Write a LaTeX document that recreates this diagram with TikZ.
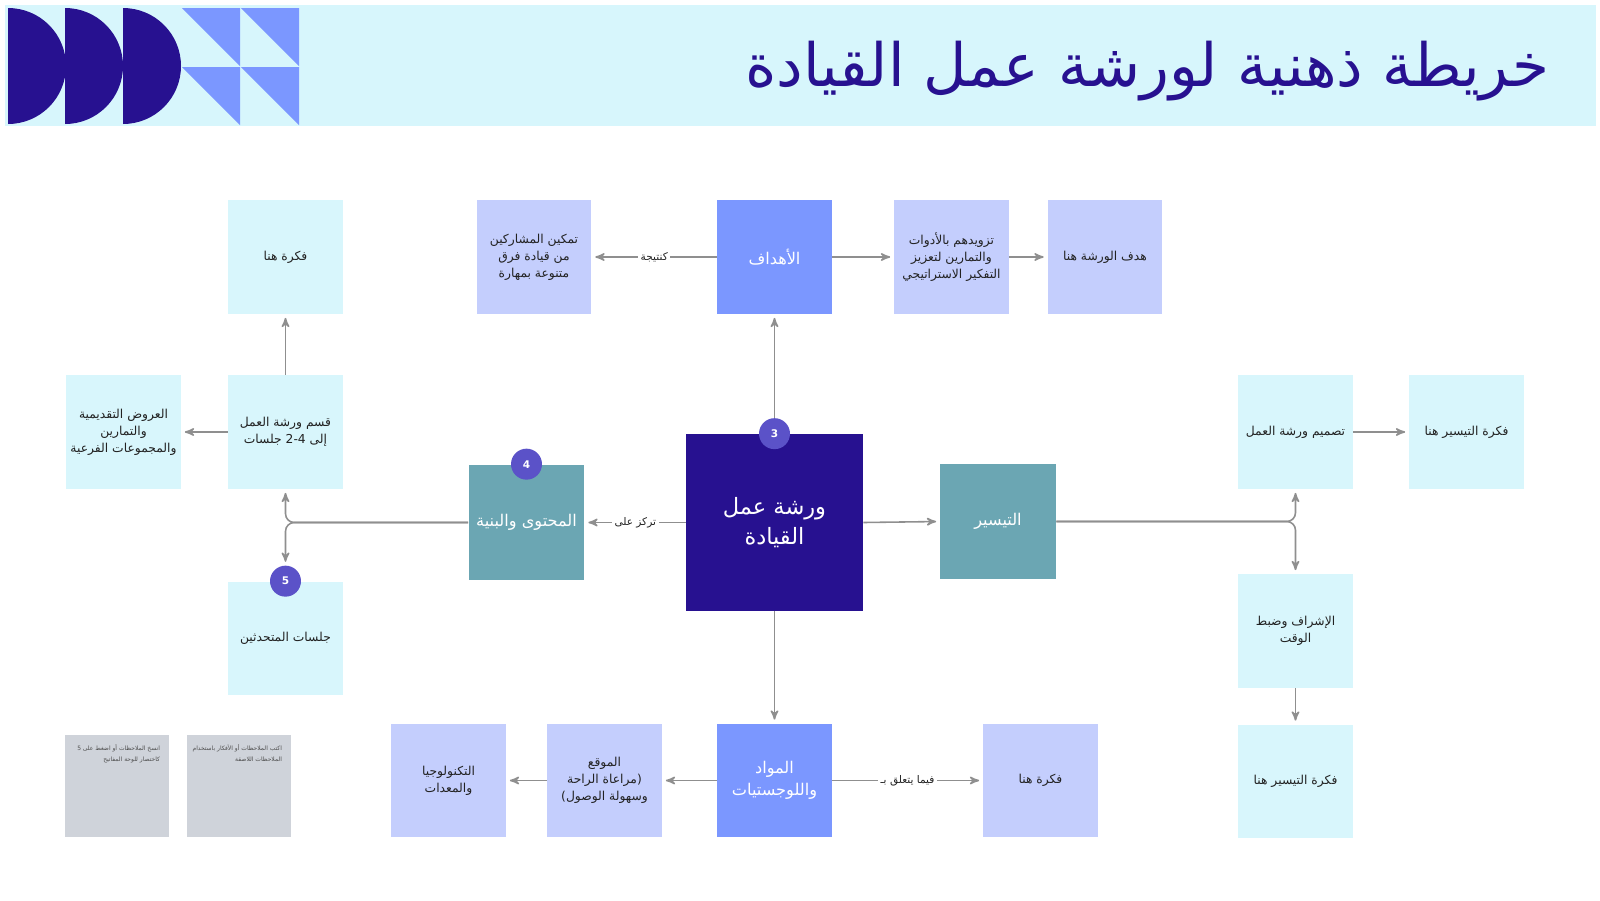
\documentclass[tikz,border=0pt]{standalone}
\usepackage{fontspec}
\usepackage{tikz}
\usetikzlibrary{arrows}
\TeXXeTstate=1
\newfontfamily\arabicfont[Script=Arabic]{DejaVu Sans}
\newcommand{\rl}[1]{\beginR#1\endR}
\definecolor{navy}{HTML}{271190}
\definecolor{band}{HTML}{D7F6FC}
\definecolor{periwinkle}{HTML}{7B97FF}
\definecolor{paleblue}{HTML}{C4CEFD}
\definecolor{palecyan}{HTML}{D8F6FC}
\definecolor{teal}{HTML}{6BA6B3}
\definecolor{badgecol}{HTML}{5B52C8}
\definecolor{linkgray}{HTML}{8F8F8F}
\definecolor{notegray}{HTML}{CFD3DA}
\definecolor{textdark}{HTML}{222222}
\tikzset{
    idea/.style={fill=palecyan,minimum width=2.3cm,minimum height=2.28cm,inner sep=0pt,align=center,text=textdark,font=\arabicfont\fontsize{7}{9.7}\selectfont},
    aim/.style={idea,fill=paleblue},
    goal/.style={idea,fill=periwinkle,text=white,font=\arabicfont\fontsize{9.2}{12.8}\selectfont},
    branch/.style={goal,fill=teal,minimum width=2.32cm,minimum height=2.32cm},
    core/.style={goal,fill=navy,minimum width=3.54cm,minimum height=3.54cm,font=\arabicfont\fontsize{12.8}{17.5}\selectfont},
    badge/.style={circle,fill=badgecol,text=white,minimum size=0.62cm,inner sep=0pt,font=\arabicfont\bfseries\fontsize{6}{6}\selectfont},
    note/.style={fill=notegray,minimum width=2.08cm,minimum height=2.04cm,inner sep=0pt},
    notetext/.style={align=right,inner sep=0pt,text=textdark!80,font=\arabicfont\fontsize{3.4}{6}\selectfont},
    link/.style={draw=linkgray,line width=0.9pt,->,>=stealth',shorten >=2pt},
    linklabel/.style={fill=white,inner sep=1.5pt,text=textdark,font=\arabicfont\fontsize{6}{6}\selectfont}
}
\begin{document}
\begin{tikzpicture}[x=0.02cm,y=-0.02cm]
\useasboundingbox(0,0)rectangle(1600,900);
\fill[band](5,5)rectangle(1596,126);
\foreach \x in {8,65,123}
	\fill[navy](\x,124)arc[start angle=90,end angle=-90,radius=58]--cycle;
\foreach \x in {182,241}
	\foreach \y in {8,67}
		\fill[periwinkle](\x,\y)--(\x+58,\y)--(\x+58,\y+58)--cycle;
\node[anchor=east,text=navy,font=\arabicfont\fontsize{34}{40}\selectfont](title) at (1556,71){\rl{خريطة ذهنية لورشة عمل القيادة}};

\node[idea](ideaTop) at (285.5,257){\rl{فكرة هنا}};
\node[aim](empower) at (534,257){\rl{تمكين المشاركين}\\\rl{من قيادة فرق}\\\rl{متنوعة بمهارة}};
\node[goal](goals) at (774.5,257){\rl{الأهداف}};
\node[aim](equip) at (951.5,257){\rl{تزويدهم بالأدوات}\\\rl{والتمارين لتعزيز}\\\rl{التفكير الاستراتيجي}};
\node[aim](aimHere) at (1105,257){\rl{هدف الورشة هنا}};

\node[idea](talks) at (123.5,432){\rl{العروض التقديمية}\\\rl{والتمارين}\\\rl{والمجموعات الفرعية}};
\node[idea](split) at (285.5,432){\rl{قسم ورشة العمل}\\\rl{إلى \beginL2-4\endL{} جلسات}};
\node[idea](design) at (1295.5,432){\rl{تصميم ورشة العمل}};
\node[idea](facIdea) at (1466.5,432){\rl{فكرة التيسير هنا}};

\node[branch](content) at (526.5,522.5){\rl{المحتوى والبنية}};
\node[core](core) at (774.5,522.5){\rl{ورشة عمل}\\\rl{القيادة}};
\node[branch](facil) at (998,521.5){\rl{التيسير}};

\node[idea](speakers) at (285.5,638.5){\rl{جلسات المتحدثين}};
\node[idea](oversee) at (1295.5,631){\rl{الإشراف وضبط}\\\rl{الوقت}};

\node[note](notecopy) at (117,786){};
\node[notetext,anchor=north east](notecopyText) at ([shift={(-9,10)}]notecopy.north east){\rl{انسخ الملاحظات أو اضغط على \beginL5\endL{}}\\\rl{كاختصار للوحة المفاتيح}};
\node[note](notewrite) at (239,786){};
\node[notetext,anchor=north east](notewriteText) at ([shift={(-9,10)}]notewrite.north east){\rl{اكتب الملاحظات أو الأفكار باستخدام}\\\rl{الملاحظات اللاصقة}};
\node[aim](tech) at (448.5,780.5){\rl{التكنولوجيا}\\\rl{والمعدات}};
\node[aim](venue) at (604.5,780.5){\rl{الموقع}\\\rl{(مراعاة الراحة}\\\rl{وسهولة الوصول)}};
\node[goal](logist) at (774.5,780.5){\rl{المواد}\\\rl{واللوجستيات}};
\node[aim](ideaBottom) at (1040.5,780.5){\rl{فكرة هنا}};
\node[idea](facIdeaBottom) at (1295.5,781.5){\rl{فكرة التيسير هنا}};

\node[badge](b3) at (core.north){3};
\node[badge](b4) at (content.north){4};
\node[badge](b5) at (speakers.north){5};

\draw[link](b3.north)--(goals.south);
\draw[link](goals.west)--node[linklabel]{\rl{كنتيجة}}(empower.east);
\draw[link](goals.east)--(equip.west);
\draw[link](equip.east)--(aimHere.west);
\draw[link](core.west)--node[linklabel]{\rl{تركز على}}(content.east);
\draw[link](core.east)--(facil.west);
\draw[link](core.south)--(logist.north);
\draw[link](logist.west)--(venue.east);
\draw[link](venue.west)--(tech.east);
\draw[link](logist.east)--node[linklabel]{\rl{فيما يتعلق بـ}}(ideaBottom.west);
\draw[link,rounded corners=5pt](content.west)-|(split.south);
\draw[link,rounded corners=5pt](content.west)-|(b5.north);
\draw[link](split.north)--(ideaTop.south);
\draw[link](split.west)--(talks.east);
\draw[link,rounded corners=5pt](facil.east)-|(design.south);
\draw[link,rounded corners=5pt](facil.east)-|(oversee.north);
\draw[link](design.east)--(facIdea.west);
\draw[link](oversee.south)--(facIdeaBottom.north);
\end{tikzpicture}
\end{document}
